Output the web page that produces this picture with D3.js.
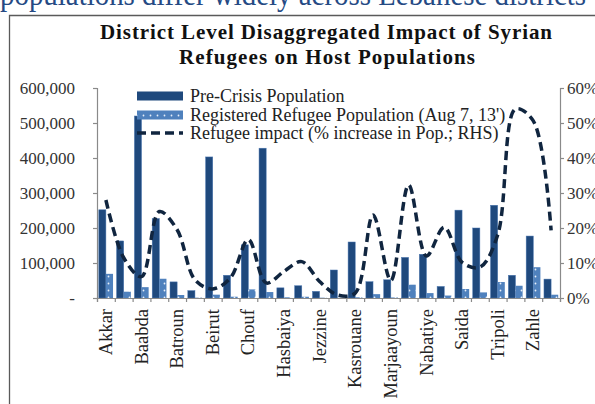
<!DOCTYPE html>
<html><head><meta charset="utf-8">
<script src="https://cdn.jsdelivr.net/npm/d3@7"></script>
<style>
html,body{margin:0;padding:0;background:#fff;overflow:hidden}
text{font-family:"Liberation Serif","Times New Roman",serif}
</style></head>
<body><svg id="c" width="595" height="404"></svg>
<script>
const districts = ["Akkar","Aley","Baabda","Baalbek","Batroun","Bcharre","Beirut","Bint Jbeil","Chouf","Danniyeh","Hasbaiya","Hermel","Jezzine","Jbeil","Kasrouane","Koura","Marjaayoun","Metn","Nabatiye","Rashaya","Saida","Sour","Tripoli","West Bekaa","Zahle","Zgharta"];
const preCrisis = [252000,163000,520000,227000,46000,21000,403000,65000,152000,428000,29000,35000,19000,80000,160000,46500,52000,116000,125000,33000,251000,200000,265000,65000,177000,54000];
const refugees = [69000,18000,31000,55000,8500,1000,9500,3700,24600,17000,2000,3600,900,700,2000,11000,1500,38000,14000,7000,25700,16000,45600,35000,88000,9400];
const impactPct = [28,11.5,6.1,24.7,19.5,5.2,2.6,5.8,16.7,4.3,7.6,10.4,4.7,0.9,1.4,23.7,5,32.3,12,20.2,10.2,8.8,18,54,50.6,19.3];
const leftTicks = [0,100000,200000,300000,400000,500000,600000];
const rightTicks = [0,10,20,30,40,50,60];
const seriesNames = ["Pre-Crisis Population","Registered Refugee Population (Aug 7, 13')","Refugee impact (% increase in Pop.; RHS)"];

const svg = d3.select("#c");
const defs = svg.append("defs");
const pat = defs.append("pattern").attr("id","dots").attr("patternUnits","userSpaceOnUse")
  .attr("width",7).attr("height",7);
pat.append("rect").attr("width",7).attr("height",7).attr("fill","#4f81bd");
pat.append("circle").attr("cx",3.5).attr("cy",3.5).attr("r",0.9).attr("fill","#e8f0fa");

// cropped heading above the chart
svg.append("text").attr("x",0).attr("y",5).attr("font-size",32).attr("fill","#254a84")
  .attr("textLength",586).attr("lengthAdjust","spacingAndGlyphs")
  .text("populations differ widely across Lebanese districts");

// frame (left and top edges visible)
svg.append("path").attr("d","M9.5,404 V15.5 H595")
  .attr("fill","none").attr("stroke","#5a5a5a").attr("stroke-width",1.3);

// title
const title = svg.append("text").attr("text-anchor","middle").attr("font-size",21)
  .attr("font-weight","bold").attr("fill","#111").attr("lengthAdjust","spacingAndGlyphs");
title.append("tspan").attr("x",326).attr("y",39).attr("textLength",452)
  .text("District Level Disaggregated Impact of Syrian");
title.append("tspan").attr("x",327).attr("y",64).attr("textLength",296)
  .text("Refugees on Host Populations");

const x0 = 97, x1 = 560, yTop = 88, yBot = 298;
const x = d3.scaleBand().domain(districts).range([x0,x1]).paddingInner(0.2).paddingOuter(0.1);
const xi = d3.scaleLinear().domain([0,districts.length]).range([x0,x1]);
const yL = d3.scaleLinear().domain([0,600000]).range([yBot,yTop]);
const yR = d3.scaleLinear().domain([0,60]).range([yBot,yTop]);
const bw = x.bandwidth()/2;

// bars
svg.append("g").selectAll("rect").data(districts).join("rect")
  .attr("x",d=>x(d)).attr("width",bw)
  .attr("y",(d,i)=>yL(preCrisis[i])).attr("height",(d,i)=>yBot-yL(preCrisis[i]))
  .attr("fill","#1f497d").attr("stroke","#4a76b0").attr("stroke-width",0.5);
svg.append("g").selectAll("rect").data(districts).join("rect")
  .attr("x",d=>x(d)+bw).attr("width",bw)
  .attr("y",(d,i)=>yL(refugees[i])).attr("height",(d,i)=>yBot-yL(refugees[i]))
  .attr("fill","url(#dots)");

// axes
const axStyle = g=>{
  g.selectAll("path,line").attr("stroke","#8a8a8a").attr("stroke-width",1.2);
  g.selectAll("text").attr("font-family","Liberation Serif, serif").attr("fill","#333");
};
svg.append("g").attr("transform",`translate(${x0},0)`)
  .call(d3.axisLeft(yL).tickValues(leftTicks).tickSize(4).tickPadding(18)
    .tickFormat(v=>v===0?"-":d3.format(",")(v)))
  .call(g=>g.selectAll("text").attr("font-size",17))
  .call(axStyle);
svg.append("g").attr("transform",`translate(${x1},0)`)
  .call(d3.axisRight(yR).tickValues(rightTicks).tickSize(4).tickPadding(3)
    .tickFormat(v=>v+"%"))
  .call(g=>g.selectAll("text").attr("font-size",17))
  .call(axStyle);
svg.append("g").attr("transform",`translate(0,${yBot})`)
  .call(d3.axisBottom(xi).tickValues(d3.range(districts.length+1)).tickSize(4).tickFormat(""))
  .call(axStyle);
svg.append("g").attr("transform",`translate(0,${yBot})`)
  .call(d3.axisBottom(x).tickSize(0).tickFormat((d,i)=>i%2===0?d:""))
  .call(g=>g.select(".domain").remove())
  .call(g=>g.selectAll("text").attr("font-size",18.5).attr("fill","#222")
    .attr("font-family","Liberation Serif, serif")
    .attr("text-anchor","end").attr("transform","rotate(-90)")
    .attr("x",-11).attr("y",0).attr("dy","0.33em"));

// line
const line = d3.line().x((d,i)=>x(districts[i])+x.bandwidth()/2).y(d=>yR(d))
  .curve(d3.curveCatmullRom.alpha(0.5));
svg.append("path").datum(impactPct).attr("d",line).attr("fill","none")
  .attr("stroke","#10253f").attr("stroke-width",3.5).attr("stroke-dasharray","9,5");

// legend
const lg = svg.append("g");
const ly = [96,115,133];
lg.append("rect").attr("x",137).attr("y",ly[0]-4.5).attr("width",46).attr("height",9).attr("fill","#1f497d");
lg.append("rect").attr("x",137).attr("y",ly[1]-4.5).attr("width",46).attr("height",9).attr("fill","url(#dots)");
lg.append("line").attr("x1",137).attr("x2",183).attr("y1",ly[2]).attr("y2",ly[2])
  .attr("stroke","#10253f").attr("stroke-width",3.5).attr("stroke-dasharray","9,5");
lg.selectAll("text").data(seriesNames).join("text")
  .attr("x",190).attr("y",(d,i)=>ly[i]).attr("dy","0.35em").attr("font-size",18).attr("fill","#222")
  .text(d=>d);
</script></body></html>
